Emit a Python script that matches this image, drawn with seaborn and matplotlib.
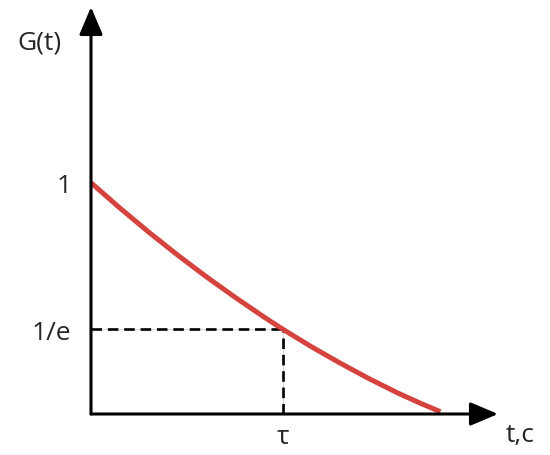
import pandas as pd
import matplotlib.pyplot as plt
import seaborn as sns

# Decay curve (t in units of tau, G normalised to G(0)=1)
t_vals = [0.0, 0.15, 0.3, 0.45, 0.6, 0.75, 0.9, 1.0, 1.15, 1.3, 1.45, 1.6, 1.72, 1.82]
g_vals = [1.0, 0.891, 0.787, 0.688, 0.594, 0.505, 0.420, 0.366, 0.290, 0.219, 0.152, 0.090, 0.045, 0.010]

tau = 1.0
g_tau = 0.366
y_ticks = [1.0, g_tau]
y_tick_labels = ["1", "1/e"]

df = pd.DataFrame({"t": t_vals, "G": g_vals})

sns.set_style("white")
plt.rcParams["font.family"] = ["Open Sans", "DejaVu Sans"]

fig = plt.figure(figsize=(5.5, 4.56), dpi=100)
ax = fig.add_axes([91 / 550, 41 / 456, 407 / 550, 407 / 456])
xmax, ymax = 2.12, 1.76
ax.set_xlim(0, xmax)
ax.set_ylim(0, ymax)

# Decay curve
sns.lineplot(data=df, x="t", y="G", ax=ax, color="#d4433d", linewidth=3.6,
             solid_capstyle="butt", zorder=3)

# Dashed guide lines at tau (thin grey line under the dashes, as in the original)
for xs, ys in [([0, tau], [g_tau, g_tau]), ([tau, tau], [0, g_tau])]:
    ax.plot(xs, ys, color="#c8c8c8", lw=0.5, zorder=1)
    ax.plot(xs, ys, color="black", lw=1.9, ls=(0, (4, 2.2)), zorder=2)

# Axes drawn as arrows
arrow = dict(arrowstyle="-|>,head_length=0.85,head_width=0.36", color="black",
             lw=2.2, mutation_scale=20, shrinkA=0, shrinkB=0)
ax.annotate("", xy=(xmax, 0), xytext=(0, 0), arrowprops=arrow, annotation_clip=False)
ax.annotate("", xy=(0, ymax), xytext=(0, 0), arrowprops=arrow, annotation_clip=False)

for s in ax.spines.values():
    s.set_visible(False)
ax.set_xticks([tau])
ax.set_xticklabels(["τ"])
ax.set_yticks(y_ticks)
ax.set_yticklabels(y_tick_labels)
ax.tick_params(length=0, labelsize=19)
ax.tick_params(axis="y", pad=14)
ax.tick_params(axis="x", pad=7)
ax.set_xlabel("")
ax.set_ylabel("")

fig.text(39 / 550, 1 - 43 / 456, "G(t)", fontsize=19, ha="center", va="center")
fig.text(520 / 550, 1 - 442 / 456, "t,c", fontsize=19, ha="center", va="baseline")

fig.savefig("out.png", dpi=100)
